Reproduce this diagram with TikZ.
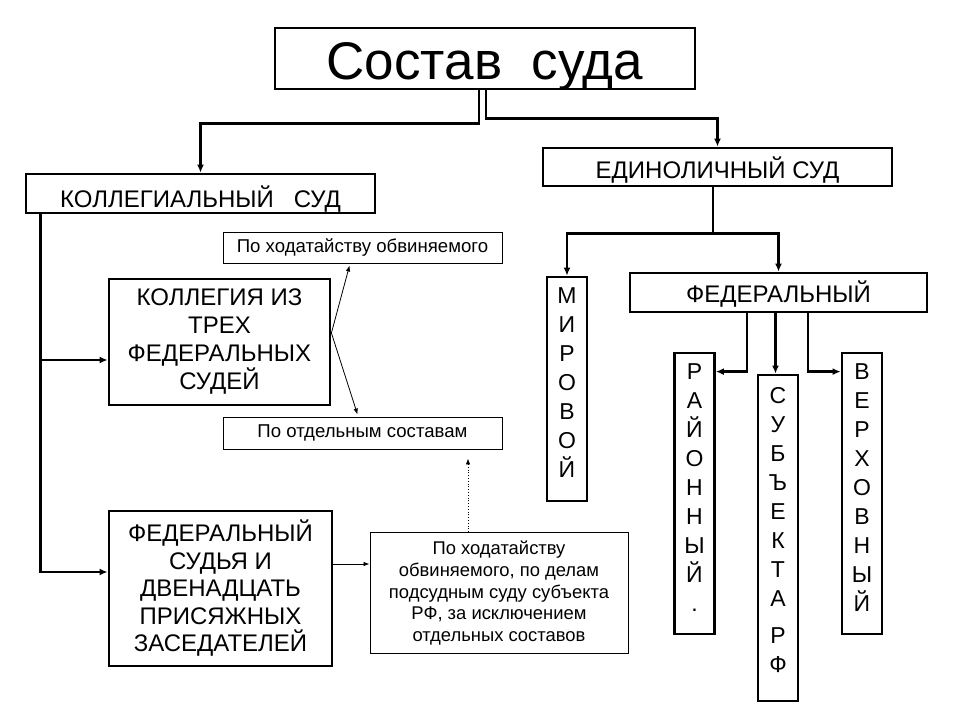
\documentclass[tikz,border=0pt]{standalone}
\usepackage{fontspec}
\setmainfont{Liberation Sans}
\usetikzlibrary{arrows.meta,calc}
\begin{document}
\begin{tikzpicture}[x=1pt,y=-1pt]
  \tikzstyle{thk}=[line width=2.8pt,-{Latex[length=8pt,width=7pt]}]
  \tikzstyle{thn}=[line width=0.8pt,-{Latex[length=6pt,width=4.5pt]}]
  \tikzstyle{bigbox}=[draw,line width=2.8pt,inner sep=0pt,align=center,font=\fontsize{24}{28}\selectfont]
  \tikzstyle{smallbox}=[draw,line width=0.9pt,inner sep=0pt,align=center,font=\fontsize{18.6}{21.7}\selectfont]
  \tikzstyle{vbox}=[bigbox,minimum width=40pt,font=\fontsize{23}{29}\selectfont]
  \fill[white] (0,0) rectangle (960,720);
  \useasboundingbox (0,0) rectangle (960,720);
  \node[bigbox,minimum width=420pt,minimum height=61pt,text height=42pt,text depth=0pt,font=\fontsize{53}{60}\selectfont] (title) at (485,58.5) {Состав\ \ суда};
  \node[bigbox,minimum width=349pt,minimum height=39pt,text height=28pt,text depth=0pt] (kol) at (200.5,193.5) {КОЛЛЕГИАЛЬНЫЙ\ \ \ СУД};
  \node[bigbox,minimum width=349pt,minimum height=38pt,text height=23pt,text depth=0pt] (edin) at (717.5,167) {ЕДИНОЛИЧНЫЙ СУД};
  \node[bigbox,minimum width=221pt,minimum height=126pt] (kolleg) at (219.5,342) {КОЛЛЕГИЯ ИЗ\\ТРЕХ\\ФЕДЕРАЛЬНЫХ\\СУДЕЙ};
  \node[bigbox,minimum width=223pt,minimum height=155pt,font=\fontsize{24}{27.5}\selectfont] (fedj) at (220.5,588.5) {ФЕДЕРАЛЬНЫЙ\\СУДЬЯ И\\ДВЕНАДЦАТЬ\\ПРИСЯЖНЫХ\\ЗАСЕДАТЕЛЕЙ};
  \node[smallbox,minimum width=279pt,minimum height=31pt] (hod1) at (362.5,247.5) {По ходатайству обвиняемого};
  \node[smallbox,minimum width=279pt,minimum height=32pt] (otd) at (362.5,433) {По отдельным составам};
  \node[smallbox,minimum width=258pt,minimum height=121pt,font=\fontsize{18.4}{21.7}\selectfont] (hod2) at (499,593) {По ходатайству\\обвиняемого, по делам\\подсудным суду субъекта\\РФ, за исключением\\отдельных составов};
  \node[vbox,minimum height=224pt] (mir) at (567,389) {М\\И\\Р\\О\\В\\О\\Й\\[-17pt]\mbox{}};
  \node[bigbox,minimum width=297pt,minimum height=39pt,text height=19pt,text depth=0pt] (fed) at (778.5,292.5) {ФЕДЕРАЛЬНЫЙ};
  \node[vbox,minimum height=281pt] (raion) at (694.5,493.5) {Р\\А\\Й\\О\\Н\\Н\\Ы\\Й\\.\\[-17pt]\mbox{}};
  \node[vbox,minimum height=326pt] (subj) at (778,538) {С\\У\\Б\\Ъ\\Е\\К\\Т\\А\\[8pt]Р\\Ф\\[-13pt]\mbox{}};
  \node[vbox,minimum height=281pt] (verh) at (862,493.5) {В\\Е\\Р\\Х\\О\\В\\Н\\Ы\\Й\\[-17pt]\mbox{}};
  \draw[thk] ([xshift=-6pt]title.south) -- ++(0,33) -| (kol.north);
  \draw[thk] ([xshift=1pt]title.south) -- ++(0,28) -| (edin.north);
  \path ([xshift=-4.5pt]edin.south) ++(0,46) coordinate (ej);
  \draw[thk] (edin.south -| ej) -- (ej) -| (mir.north);
  \draw[thk] (ej) -| (fed.north);
  \draw[thk] ([xshift=-31.5pt]fed.south) |- ([yshift=-20pt]raion.north east);
  \draw[thk] ([xshift=-3pt]fed.south) -- ([xshift=-3pt]fed.south |- subj.north);
  \draw[thk] ([xshift=29.5pt]fed.south) |- ([yshift=-20pt]verh.north west);
  \draw[thk] ([xshift=16pt]kol.south west) |- ([yshift=-18pt]kolleg.west);
  \draw[thk] ([xshift=16pt]kol.south west) |- ([yshift=16.5pt]fedj.west);
  \draw[thn] ([yshift=9pt]kolleg.east) -- ([xshift=127pt,yshift=-2pt]hod1.south west);
  \draw[thn] ([yshift=9pt]kolleg.east) -- ([xshift=135pt,yshift=2pt]otd.north west);
  \draw[thn] ([yshift=24.5pt]fedj.east) -- ([yshift=24.5pt]fedj.east -| hod2.west);
  \path ([xshift=-31pt]hod2.north) coordinate (dt);
  \draw[thn,dotted] (dt) -- ($(dt |- otd.south)+(0,9)$);
\end{tikzpicture}
\end{document}
